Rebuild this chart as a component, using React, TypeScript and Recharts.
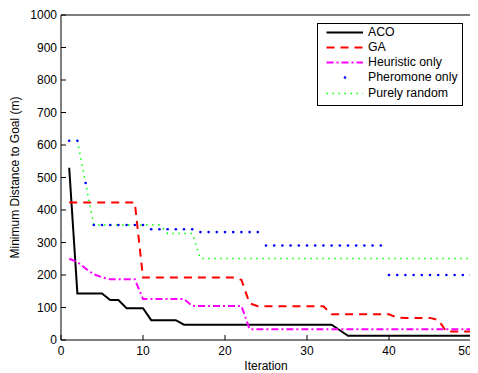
import React from 'react';
import { LineChart, Line, XAxis, YAxis, Legend, Label } from 'recharts';

const iterations = [1, 2, 3, 4, 5, 6, 7, 8, 9, 10, 11, 12, 13, 14, 15, 16, 17, 18, 19, 20, 21, 22, 23, 24, 25, 26, 27, 28, 29, 30, 31, 32, 33, 34, 35, 36, 37, 38, 39, 40, 41, 42, 43, 44, 45, 46, 47, 48, 49, 50];

const aco = [530, 143, 143, 143, 143, 123, 123, 98, 98, 98, 61, 61, 61, 61, 47, 47, 47, 47, 47, 47, 47, 47, 47, 47, 47, 47, 47, 47, 47, 47, 47, 47, 47, 30, 13, 13, 13, 13, 13, 13, 13, 13, 13, 13, 13, 13, 13, 13, 13, 13];
const ga = [423, 423, 423, 423, 423, 423, 423, 423, 423, 192, 192, 192, 192, 192, 192, 192, 192, 192, 192, 192, 192, 185, 113, 104, 104, 104, 104, 104, 104, 104, 104, 104, 79, 79, 79, 79, 79, 79, 79, 79, 69, 68, 68, 68, 68, 62, 26, 26, 26, 26];
const heuristic = [250, 240, 220, 202, 193, 187, 187, 187, 187, 126, 126, 126, 126, 126, 126, 105, 105, 105, 105, 105, 105, 105, 33, 33, 33, 33, 33, 33, 33, 33, 33, 33, 33, 33, 33, 33, 33, 33, 33, 33, 33, 33, 33, 33, 33, 33, 33, 33, 33, 33];
const pheromone = [613, 613, 483, 354, 354, 354, 354, 354, 354, 354, 341, 341, 341, 341, 341, 341, 332, 332, 332, 332, 332, 332, 332, 332, 291, 291, 291, 291, 291, 291, 291, 291, 291, 291, 291, 291, 291, 291, 291, 200, 200, 200, 200, 200, 200, 200, 200, 200, 200, 200];
const random = [null, 613, 483, 354, 354, 354, 354, 354, 354, 354, 354, 354, 328, 328, 328, 328, 251, 251, 251, 251, 251, 251, 251, 251, 251, 251, 251, 251, 251, 251, 251, 251, 251, 251, 251, 251, 251, 251, 251, 251, 251, 251, 251, 251, 251, 251, 251, 251, 251, 251];

const xTicks = [0, 10, 20, 30, 40, 50];
const yTicks = [0, 100, 200, 300, 400, 500, 600, 700, 800, 900, 1000];

const seriesNames = ['ACO', 'GA', 'Heuristic only', 'Pheromone only', 'Purely random'];

const data = iterations.map((it, i) => ({
  it,
  aco: aco[i],
  ga: ga[i],
  heuristic: heuristic[i],
  pheromone: pheromone[i],
  random: random[i],
}));

const FONT = '"Liberation Sans", Arial, Helvetica, sans-serif';

type Style = { key: string; name: string; color: string; width: number; dash?: string; dotOnly?: boolean };
const styles: Style[] = [
  { key: 'aco', name: seriesNames[0], color: '#000000', width: 2 },
  { key: 'ga', name: seriesNames[1], color: '#ff0000', width: 2, dash: '8 6' },
  { key: 'heuristic', name: seriesNames[2], color: '#ff00ff', width: 2, dash: '7 3 2 3' },
  { key: 'pheromone', name: seriesNames[3], color: '#0000ff', width: 2, dotOnly: true },
  { key: 'random', name: seriesNames[4], color: '#00ff00', width: 1.5, dash: '1.5 4.5' },
];

const LegendBox = () => (
  <div
    style={{
      width: 146,
      height: 83,
      boxSizing: 'border-box',
      border: '1px solid #000',
      background: '#fff',
      paddingTop: 1.5,
      fontFamily: FONT,
    }}
  >
    {styles.map((s) => (
      <div key={s.key} style={{ display: 'flex', alignItems: 'center', height: 15.15 }}>
        <svg width={50} height={15} style={{ display: 'block' }}>
          {s.dotOnly ? (
            <circle cx={27} cy={7.5} r={1.3} fill={s.color} />
          ) : (
            <line x1={8.5} x2={45} y1={7.5} y2={7.5} stroke={s.color} strokeWidth={s.width} strokeDasharray={s.dash} />
          )}
        </svg>
        <span style={{ fontSize: 12.3, color: '#000', lineHeight: '15px', whiteSpace: 'nowrap' }}>{s.name}</span>
      </div>
    ))}
  </div>
);

const YLabel = (props: any) => {
  const vb = props.viewBox || { x: 0, y: 0, width: 0, height: 0 };
  const cx = vb.x + 10.5;
  const cy = vb.y + vb.height / 2;
  return (
    <text
      x={cx}
      y={cy}
      transform={`rotate(-90, ${cx}, ${cy})`}
      textAnchor="middle"
      fontSize={12}
      fontFamily={FONT}
      fill="#000"
    >
      Minimum Distance to Goal (m)
    </text>
  );
};

const lastX = xTicks[xTicks.length - 1];

const XTick = (props: any) => {
  const { x, y, payload } = props;
  const shift = payload.value === lastX ? -6 : 0;
  return (
    <text x={x + shift} y={y + 8.5} textAnchor="middle" fontSize={12} fontFamily={FONT} fill="#000">
      {payload.value}
    </text>
  );
};

const tickStyle = { fontSize: 12, fill: '#000', fontFamily: FONT };

export default function App() {
  return (
    <div style={{ width: 470, height: 365, fontFamily: FONT }}>
      <style>{`html,body{overflow:hidden}`}</style>
      <LineChart width={470} height={365} data={data} margin={{ top: 0, right: 0, bottom: 0, left: 0 }}>
        <XAxis
          xAxisId="b"
          dataKey="it"
          type="number"
          domain={[0, 50]}
          ticks={xTicks}
          interval={0}
          height={33}
          tickSize={-5}
          tickMargin={11.5}
          tick={<XTick />}
          axisLine={{ stroke: '#000' }}
          tickLine={{ stroke: '#000' }}
        >
          <Label value="Iteration" position="insideBottom" offset={3} fontSize={12} fontFamily={FONT} fill="#000" />
        </XAxis>
        <XAxis
          xAxisId="t"
          orientation="top"
          dataKey="it"
          type="number"
          domain={[0, 50]}
          ticks={xTicks}
          interval={0}
          height={7}
          tickSize={-5}
          tick={false}
          axisLine={{ stroke: '#000' }}
          tickLine={{ stroke: '#000' }}
        />
        <YAxis
          yAxisId="l"
          type="number"
          domain={[0, 1000]}
          ticks={yTicks}
          interval={0}
          width={53}
          tickSize={-5}
          tickMargin={9}
          tick={tickStyle}
          axisLine={{ stroke: '#000' }}
          tickLine={{ stroke: '#000' }}
          label={<YLabel />}
        />
        <YAxis
          yAxisId="r"
          orientation="right"
          type="number"
          domain={[0, 1000]}
          ticks={yTicks}
          interval={0}
          width={7}
          tickSize={-5}
          tick={false}
          axisLine={{ stroke: '#000' }}
          tickLine={{ stroke: '#000' }}
        />
        <Legend
          layout="vertical"
          align="center"
          verticalAlign="middle"
          content={<LegendBox />}
          wrapperStyle={{ left: 309, top: 14.5, width: 146, height: 83 }}
        />
        {styles.map((s) =>
          s.dotOnly ? (
            <Line
              key={s.key}
              xAxisId="b"
              yAxisId="l"
              dataKey={s.key}
              name={s.name}
              type="linear"
              stroke="none"
              dot={{ r: 1.3, fill: s.color, stroke: 'none' }}
              activeDot={false}
              isAnimationActive={false}
            />
          ) : (
            <Line
              key={s.key}
              xAxisId="b"
              yAxisId="l"
              dataKey={s.key}
              name={s.name}
              type="linear"
              stroke={s.color}
              strokeWidth={s.width}
              strokeDasharray={s.dash}
              dot={false}
              activeDot={false}
              isAnimationActive={false}
            />
          )
        )}
      </LineChart>
    </div>
  );
}
